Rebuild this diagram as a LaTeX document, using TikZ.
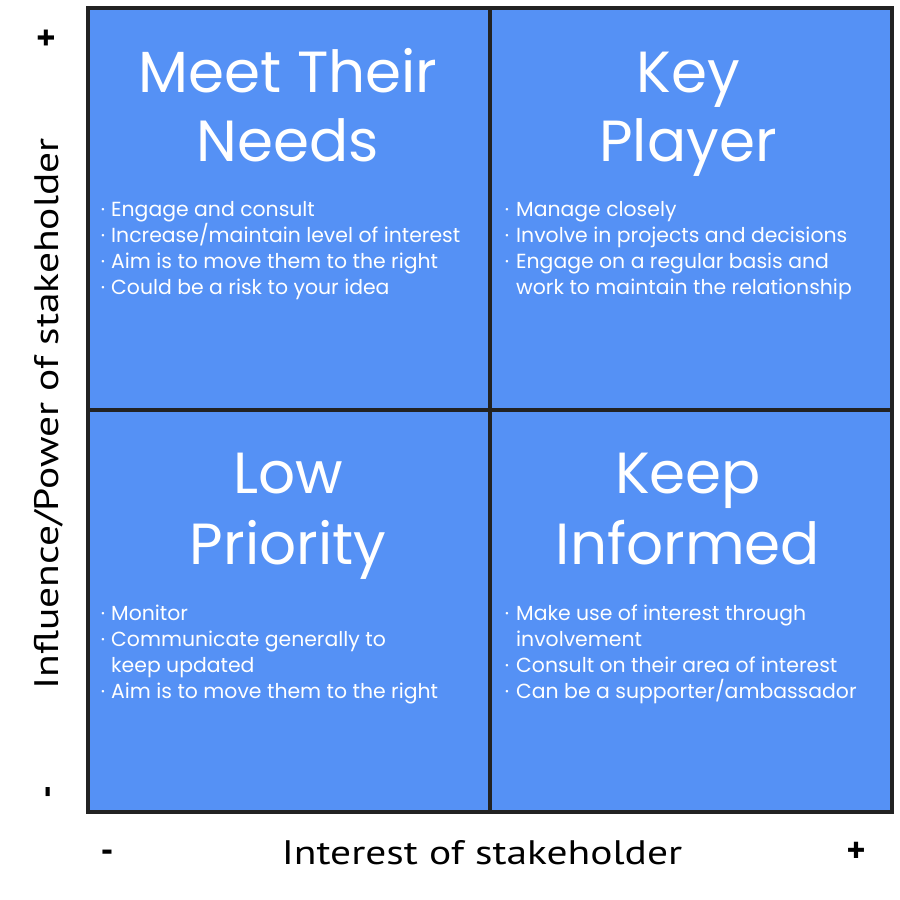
\documentclass[tikz,border=0pt]{standalone}
\usepackage{fontspec}
\setmainfont{Poppins}
\newfontfamily\axisfont{PT Sans}
\definecolor{quadblue}{RGB}{85,145,245}
\definecolor{gridline}{RGB}{34,34,34}
\tikzset{
  quad/.style={fill=quadblue, draw=gridline, line width=4pt},
  title/.style={anchor=base, text=white, inner sep=0pt, font=\fontsize{58}{70}\selectfont},
  item/.style={anchor=base west, text=white, inner sep=0pt, font=\fontsize{20.4}{26}\selectfont},
  dot/.style={anchor=base, text=white, inner sep=0pt, font=\fontsize{20}{26}\selectfont},
  axis/.style={text=black, inner sep=0pt, font=\axisfont\fontsize{34}{40}\selectfont},
  sign/.style={anchor=base, text=black, inner sep=0pt, font=\axisfont\bfseries\fontsize{36}{40}\selectfont}
}
\begin{document}
\begin{tikzpicture}[x=1pt,y=-1pt]
\useasboundingbox (0,0) rectangle (900,900);
% quadrants
\draw[quad] (88,8) rectangle (490,410);
\draw[quad] (490,8) rectangle (892,410);
\draw[quad] (88,410) rectangle (490,812);
\draw[quad] (490,410) rectangle (892,812);
% titles
\node[title] (t1a) at (288,92) {Meet Their};
\node[title] (t1b) at (288,161) {Needs};
\node[title] (t2a) at (688,92) {Key};
\node[title] (t2b) at (688,161) {Player};
\node[title] (t3a) at (288,493) {Low};
\node[title] (t3b) at (288,564) {Priority};
\node[title] (t4a) at (688,493) {Keep};
\node[title] (t4b) at (688,564) {Informed};
% TL bullets
\node[dot] (d11) at (103,216) {·};
\node[item] (i11) at (111,216) {Engage and consult};
\node[dot] (d12) at (103,242) {·};
\node[item] (i12) at (111,242) {Increase/maintain level of interest};
\node[dot] (d13) at (103,268) {·};
\node[item] (i13) at (111,268) {Aim is to move them to the right};
\node[dot] (d14) at (103,294) {·};
\node[item] (i14) at (111,294) {Could be a risk to your idea};
% TR bullets
\node[dot] (d21) at (507,216) {·};
\node[item] (i21) at (516,216) {Manage closely};
\node[dot] (d22) at (507,242) {·};
\node[item] (i22) at (516,242) {Involve in projects and decisions};
\node[dot] (d23) at (507,268) {·};
\node[item] (i23) at (516,268) {Engage on a regular basis and};
\node[item] (i24) at (516,294) {work to maintain the relationship};
% BL bullets
\node[dot] (d31) at (103,620) {·};
\node[item] (i31) at (111,620) {Monitor};
\node[dot] (d32) at (103,646) {·};
\node[item] (i32) at (111,646) {Communicate generally to};
\node[item] (i33) at (111,672) {keep updated};
\node[dot] (d34) at (103,698) {·};
\node[item] (i34) at (111,698) {Aim is to move them to the right};
% BR bullets
\node[dot] (d41) at (507,620) {·};
\node[item] (i41) at (516,620) {Make use of interest through};
\node[item] (i42) at (516,646) {involvement};
\node[dot] (d43) at (507,672) {·};
\node[dot] (d44) at (507,698) {·};
\node[item] (i43) at (516,672) {Consult on their area of interest};
\node[item] (i44) at (516,698) {Can be a supporter/ambassador};
% axes
\node[axis, anchor=base] (xl) at (482,864) {\scalebox{1.22}[1]{Interest of stakeholder}};
\node[sign] (xm) at (107,862) {-};
\node[sign] (xp) at (856,862) {+};
\node[axis, rotate=90, anchor=base] (yl) at (58,414) {\scalebox{1.22}[1]{Influence/Power of stakeholder}};
\node[sign, rotate=90] (yp) at (58,38) {+};
\node[sign, rotate=90] (ym) at (58,792) {-};
\end{tikzpicture}
\end{document}
